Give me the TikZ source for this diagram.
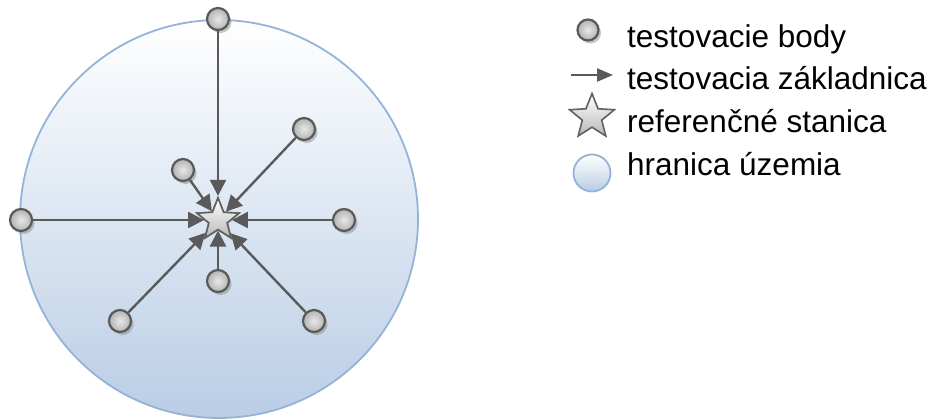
\documentclass[tikz,border=0pt]{standalone}
\usepackage{fontspec}
\setmainfont{Liberation Sans}
\usetikzlibrary{shapes.geometric,arrows.meta,shadows}
\definecolor{edgegray}{HTML}{5A5A5A}
\definecolor{areafill}{HTML}{B9CDE5}
\definecolor{areaedge}{HTML}{95B3D7}
\tikzset{
  testpt/.style={circle, minimum size=22pt, inner sep=0pt, draw=edgegray, line width=2.2pt,
    inner color=gray!18, outer color=gray!60,
    drop shadow={shadow xshift=2.5pt, shadow yshift=-3pt, fill=gray, opacity=0.45}},
  refstar/.style={star, star points=5, star point ratio=2.3, minimum size=44pt, inner sep=0pt,
    draw=gray!75!black, line width=1.6pt, top color=white, bottom color=gray!55},
  baseline arrow/.style={draw=edgegray, line width=2.4pt, -{Triangle[length=16pt,width=16pt]}},
  area/.style={circle, draw=areaedge, line width=1.8pt, top color=white, bottom color=areafill, inner sep=0pt},
  legendtext/.style={anchor=base west, inner sep=0pt, font=\fontsize{31.5}{36}\selectfont}
}
\begin{document}
\begin{tikzpicture}[x=1pt, y=-1pt]
\useasboundingbox (0,0) rectangle (933,418);
% territory boundary
\node[area, minimum size=398pt] (terr) at (219,219) {};
% reference station
\node[refstar] (ref) at (218,220) {};
% test points
\node[testpt] (p1) at (218,19) {};
\node[testpt] (p2) at (183,170) {};
\node[testpt] (p3) at (304,129) {};
\node[testpt] (p4) at (21,220) {};
\node[testpt] (p5) at (344,220) {};
\node[testpt] (p6) at (218,281) {};
\node[testpt] (p7) at (120,321) {};
\node[testpt] (p8) at (314,321) {};
% test baselines
\foreach \p in {p1,p2,p3,p4,p5,p6,p7,p8}
  \draw[baseline arrow] (\p) -- (ref);
\node[refstar] at (218,220) {};
% legend
\node[testpt, minimum size=21pt] (lp) at (588,30) {};
\node[legendtext] (t1) at (627,47) {testovacie body};
\coordinate (la) at (571,75);
\coordinate (lb) at (613,75);
\draw[baseline arrow, -{Triangle[length=16pt,width=13pt]}] (la) -- (lb);
\node[legendtext] (t2) at (627,89) {testovacia základnica};
\node[refstar, minimum size=47pt] (ls) at (592,117) {};
\node[legendtext] (t3) at (627,132) {referenčné stanica};
\node[area, minimum size=37pt] (lc) at (592,173) {};
\node[legendtext] (t4) at (627,175) {hranica územia};
\end{tikzpicture}
\end{document}
